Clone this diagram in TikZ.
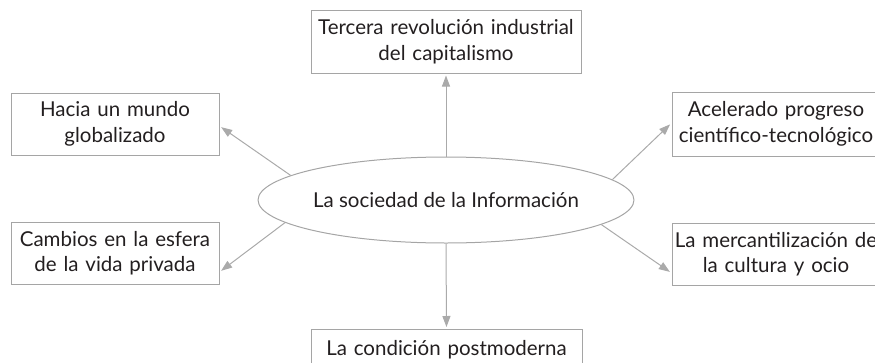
\documentclass[tikz,border=0pt]{standalone}
\usepackage{fontspec}
\setmainfont{Lato}
\usetikzlibrary{shapes.geometric,arrows.meta}
\definecolor{boxgray}{RGB}{165,165,165}
\definecolor{arrgray}{RGB}{170,170,170}
\definecolor{txt}{RGB}{35,31,32}
\begin{document}
\begin{tikzpicture}[x=1pt,y=-1pt,
  box/.style={draw=boxgray,line width=1pt,fill=white,text=txt,align=center,inner sep=0pt,font=\fontsize{20.5}{25.5}\selectfont},
  conn/.style={draw=arrgray,line width=1pt,-{Triangle[length=11pt,width=8pt]},shorten >=2pt}]
\useasboundingbox (0,0) rectangle (875,362);
\clip (0,0) rectangle (875,362);
\node[box,text width=270pt,minimum height=63pt] (top) at (446,41.5) {Tercera revolución industrial\\del capitalismo};
\node[box,text width=208pt,minimum height=62pt] (lt) at (115,124) {Hacia un mundo\\globalizado};
\node[box,text width=208pt,minimum height=62pt] (lb) at (115,253) {Cambios en la esfera\\de la vida privada};
\node[box,text width=208pt,minimum height=64pt] (rt) at (776,124) {Acelerado progreso\\científico-tecnológico};
\node[box,text width=208pt,minimum height=62pt] (rb) at (776,254) {La mercantilización de\\la cultura y ocio};
\node[box,text width=271pt,minimum height=62pt,anchor=north] (bot) at (446.5,329) {La condición postmoderna\\\mbox{}};
\node[draw=boxgray,ellipse,minimum width=334pt,minimum height=86pt,inner sep=0pt,text=txt,font=\fontsize{20.5}{24}\selectfont,line width=1pt] (e) at (446,200) {La sociedad de la Información};
\draw[conn] (e.90) -- (top.south);
\draw[conn] (e.-90) -- (bot.north);
\draw[conn] (e.171.8) -- ([yshift=-2pt]lt.east);
\draw[conn] (e.188.2) -- ([yshift=-19pt]lb.east);
\draw[conn] (e.7.8) -- ([yshift=1pt]rt.west);
\draw[conn] (e.351.8) -- ([yshift=-19pt]rb.west);
\end{tikzpicture}
\end{document}
